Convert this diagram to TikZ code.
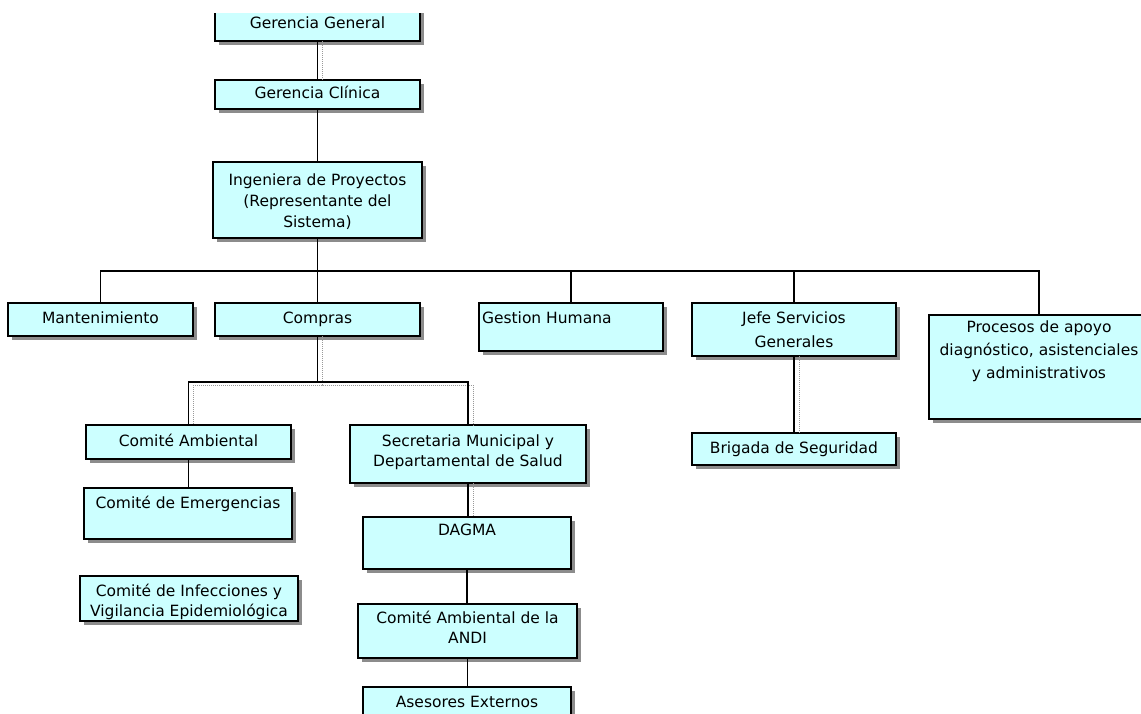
\documentclass[tikz,border=0pt]{standalone}
\usepackage{fontspec}
\setmainfont{DejaVu Sans}
\usetikzlibrary{shadows}
\definecolor{boxfill}{HTML}{CCFFFF}
% #1 width, #2 height, #3 top pad, #4 line skip, #5 lines
\newcommand{\bt}[5]{\vbox to #2pt{\hsize=#1pt\parindent=0pt\baselineskip=#4pt\lineskiplimit=-100pt\lineskip=0pt\relax\vskip#3pt\relax #5\vss}}
\newcommand{\bxline}[1]{\hbox to\hsize{\hss\rule{0pt}{12pt}#1\hss}}
\newcommand{\bxleft}[1]{\hbox to\hsize{\hskip3pt\rule{0pt}{12pt}#1\hss}}
\begin{document}
\begin{tikzpicture}[x=1pt,y=-1pt,
  ob/.style={draw=black, line width=1.5pt, fill=boxfill, anchor=north west,
    inner sep=0pt, outer sep=0pt,
    drop shadow={shadow xshift=3.5pt, shadow yshift=-3.5pt, fill=black!45, opacity=1}},
  con/.style={draw=black, line width=1.9pt},
  cshadow/.style={draw=black!40, line width=1pt, dash pattern=on 1pt off 1pt},
  font=\fontsize{15.5}{21}\selectfont]
\useasboundingbox (0,0) rectangle (1141,713);
\fill[white] (0,0) rectangle (1141,713);
\begin{scope}
\clip (0,13) rectangle (1141,713);
% boxes
\node[ob] (gg) at (215,0) {\bt{205}{41}{16}{21}{\bxline{Gerencia General}}};
\node[ob] (gc) at (215,80) {\bt{205}{29}{6}{21}{\bxline{Gerencia Clínica}}};
\node[ob] (ing) at (213,162) {\bt{209}{76}{11}{21}{\bxline{Ingeniera de Proyectos}\bxline{(Representante del}\bxline{Sistema)}}};
\node[ob] (mant) at (8,303) {\bt{185}{33}{8}{21}{\bxline{Mantenimiento}}};
\node[ob] (compras) at (215,303) {\bt{205}{33}{8}{21}{\bxline{Compras}}};
\node[ob] (gh) at (479,303) {\bt{184}{48}{8}{21}{\bxleft{Gestion Humana}}};
\node[ob] (jefe) at (692,303) {\bt{204}{53}{8}{24}{\bxline{Jefe Servicios}\bxline{Generales}}};
\node[ob] (proc) at (929,315) {\bt{220}{104}{5}{23}{\bxline{Procesos de apoyo}\bxline{diagnóstico, asistenciales}\bxline{y administrativos}}};
\node[ob] (brig) at (692,433) {\bt{204}{32}{8}{21}{\bxline{Brigada de Seguridad}}};
\node[ob] (ca) at (86,425) {\bt{205}{34}{9}{21}{\bxline{Comité Ambiental}}};
\node[ob] (em) at (84,488) {\bt{208}{51}{8}{21}{\bxline{Comité de Emergencias}}};
\node[ob] (inf) at (80,576) {\bt{218}{45}{8}{20}{\bxline{Comité de Infecciones y}\bxline{Vigilancia Epidemiológica}}};
\node[ob] (sec) at (350,425) {\bt{236}{58}{9}{20}{\bxline{Secretaria Municipal y}\bxline{Departamental de Salud}}};
\node[ob] (dagma) at (363,517) {\bt{208}{52}{6}{21}{\bxline{DAGMA}}};
\node[ob] (andi) at (358,604) {\bt{219}{54}{7}{20}{\bxline{Comité Ambiental de la}\bxline{ANDI}}};
\node[ob] (ase) at (363,687) {\bt{208}{40}{8}{21}{\bxline{Asesores Externos}}};
% junctions
\coordinate (b0) at (317.5,271);
\coordinate (c0) at (317.5,382);
% dotted shadow connectors
\draw[cshadow] ([xshift=5pt]gg.south) -- ([xshift=5pt]gc.north);
\draw[cshadow] ([xshift=5pt]compras.south) -- ([xshift=5pt,yshift=-3pt]c0) -| ([xshift=5pt]ca.north);
\draw[cshadow] ([xshift=5pt,yshift=-3pt]c0) -| ([xshift=5pt]sec.north);
\draw[cshadow] ([xshift=5pt]sec.south) -- ([xshift=5pt]sec.south |- dagma.north);
\draw[cshadow] ([xshift=5pt]jefe.south) -- ([xshift=5pt]brig.north);
% solid connectors
\draw[con] (gg.south) -- (gc.north);
\draw[con] (gc.south) -- (gc.south |- ing.north);
\draw[con] (ing.south) -- (b0);
\draw[con] (mant.north) |- (b0);
\draw[con] (proc.north) |- (b0);
\draw[con] (gh.north) |- (b0);
\draw[con] (jefe.north) |- (b0);
\draw[con] (compras.north) -- (b0);
\draw[con] (compras.south) -- (c0);
\draw[con] (ca.north) |- (c0);
\draw[con] (sec.north) |- (c0);
\draw[con] (ca.south) -- (ca.south |- em.north);
\draw[con] (sec.south) -- (sec.south |- dagma.north);
\draw[con] (dagma.south) -- (dagma.south |- andi.north);
\draw[con] (andi.south) -- (andi.south |- ase.north);
\draw[con] (jefe.south) -- (brig.north);
\end{scope}
\end{tikzpicture}
\end{document}
